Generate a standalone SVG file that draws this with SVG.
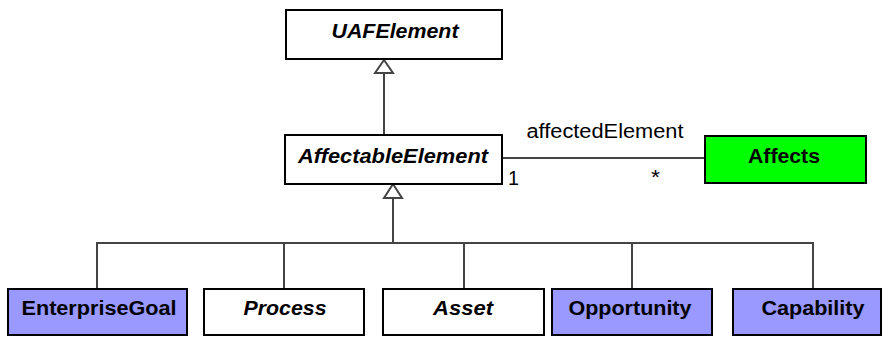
<svg xmlns="http://www.w3.org/2000/svg" width="883" height="337" viewBox="0 0 883 337">
<style>
.box{stroke:#000;stroke-width:2;fill:#fff}
.blue{fill:#9999ff}
.green{fill:#00ff00}
.lbl{font-family:"Liberation Sans",Arial,sans-serif;font-size:20px;font-weight:bold;fill:#000;text-anchor:middle}
.it{font-style:italic}
.plain{font-family:"Liberation Sans",Arial,sans-serif;font-size:20px;fill:#000}
.conn{stroke:#444;stroke-width:2;fill:none}
.tri{stroke:#444;stroke-width:2;fill:#fff}
</style>
<rect width="883" height="337" fill="#fff"/>
<g id="connectors">
<polygon class="tri" points="384,60 375,73 393,73"/>
<line class="conn" x1="384" y1="73" x2="384" y2="135"/>
<polygon class="tri" points="393,184 384,198 402,198"/>
<line class="conn" x1="393" y1="198" x2="393" y2="243"/>
<polyline class="conn" points="97,288 97,243 813,243 813,288"/>
<line class="conn" x1="284" y1="243" x2="284" y2="288"/>
<line class="conn" x1="464" y1="243" x2="464" y2="288"/>
<line class="conn" x1="632" y1="243" x2="632" y2="288"/>
<line class="conn" x1="502" y1="158" x2="705" y2="158"/>
<text class="plain" x="605" y="138" text-anchor="middle" textLength="157" lengthAdjust="spacingAndGlyphs">affectedElement</text>
<text class="plain" x="508" y="185" textLength="11" lengthAdjust="spacingAndGlyphs">1</text>
<text class="plain" x="651" y="184" textLength="9" lengthAdjust="spacingAndGlyphs">*</text>
</g>
<g id="UAFElement">
<rect class="box" x="286" y="10" width="216" height="49"/>
<text class="lbl it" x="395" y="38" textLength="127" lengthAdjust="spacingAndGlyphs">UAFElement</text>
</g>
<g id="AffectableElement">
<rect class="box" x="285" y="135" width="217" height="49"/>
<text class="lbl it" x="393" y="163" textLength="190" lengthAdjust="spacingAndGlyphs">AffectableElement</text>
</g>
<g id="Affects">
<rect class="box green" x="705" y="136" width="161" height="47"/>
<text class="lbl" x="784" y="163" textLength="72" lengthAdjust="spacingAndGlyphs">Affects</text>
</g>
<g id="EnterpriseGoal">
<rect class="box blue" x="8" y="289" width="179" height="46"/>
<text class="lbl" x="99" y="315" textLength="155" lengthAdjust="spacingAndGlyphs">EnterpriseGoal</text>
</g>
<g id="Process">
<rect class="box" x="204" y="289" width="160" height="46"/>
<text class="lbl it" x="285" y="315" textLength="83" lengthAdjust="spacingAndGlyphs">Process</text>
</g>
<g id="Asset">
<rect class="box" x="383" y="289" width="161" height="46"/>
<text class="lbl it" x="463" y="315" textLength="60" lengthAdjust="spacingAndGlyphs">Asset</text>
</g>
<g id="Opportunity">
<rect class="box blue" x="552" y="289" width="160" height="46"/>
<text class="lbl" x="630" y="315" textLength="123" lengthAdjust="spacingAndGlyphs">Opportunity</text>
</g>
<g id="Capability">
<rect class="box blue" x="733" y="289" width="148" height="46"/>
<text class="lbl" x="813" y="315" textLength="103" lengthAdjust="spacingAndGlyphs">Capability</text>
</g>
</svg>
